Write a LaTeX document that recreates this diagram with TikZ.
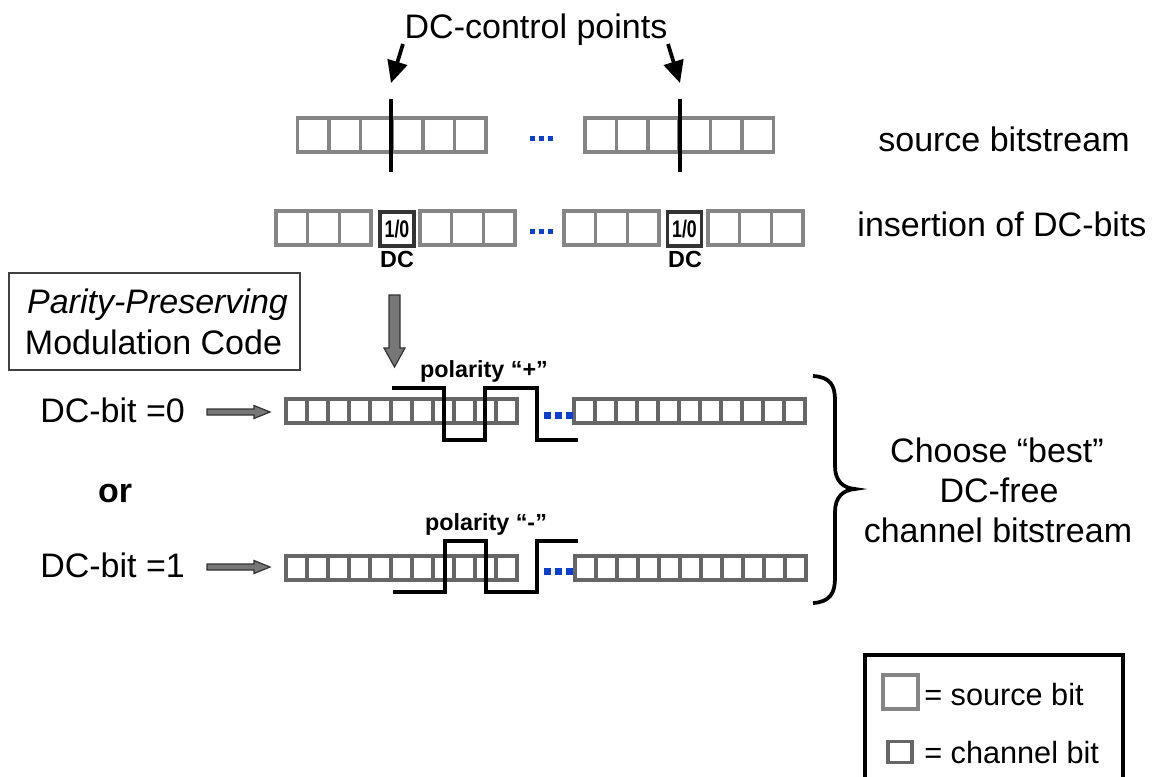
\documentclass[tikz,border=0pt]{standalone}
\usepackage{fontspec}
\setmainfont{Liberation Sans}
\usetikzlibrary{arrows.meta}
\definecolor{srcgray}{HTML}{858585}
\definecolor{chgray}{HTML}{666666}
\definecolor{dcgray}{HTML}{333333}
\definecolor{dotblue}{HTML}{0A3FD0}
\definecolor{arrgray}{HTML}{777777}
\begin{document}
\begin{tikzpicture}[x=0.75pt,y=-0.75pt,
  srcbit/.style={draw=srcgray,line width=2.7pt,fill=white,minimum width=23.55pt,minimum height=25.5pt,inner sep=0pt,outer sep=0pt},
  insbit/.style={srcbit,minimum width=23.8pt},
  dcbit/.style={draw=dcgray,line width=2.7pt,fill=white,minimum width=25.5pt,minimum height=25.5pt,inner sep=0pt,outer sep=0pt,font=\bfseries\fontsize{18}{18}\selectfont},
  chbit/.style={draw=chgray,line width=2.6pt,fill=white,minimum width=15.75pt,minimum height=18pt,inner sep=0pt,outer sep=0pt},
  main/.style={font=\fontsize{25.5}{30}\selectfont,inner sep=0pt},
  leg/.style={font=\fontsize{23}{27}\selectfont,inner sep=0pt},
  lbl/.style={font=\bfseries\fontsize{17.5}{20}\selectfont,inner sep=0pt},
  wave/.style={line width=2.8pt,line join=miter},
  blk/.style={line width=2.8pt},
  bluedot/.style={fill=dotblue},
  garrow/.style={fill=arrgray,draw=black!80,line width=0.9pt}
]
\useasboundingbox (0,0) rectangle (1152,776);

% title and DC-control arrows
\node[main,anchor=base] (title) at (536,38) {DC-control points};
\coordinate (ta) at (403,44);
\coordinate (tb) at (668,44);
\coordinate (h1) at (391,83);
\coordinate (h2) at (680,83);
\draw[blk,-{Triangle[length=16.5pt,width=15pt]}] (ta) -- (h1);
\draw[blk,-{Triangle[length=16.5pt,width=15pt]}] (tb) -- (h2);

% source bitstream row
\foreach \i in {0,...,5} {
  \node[srcbit] (sa\i) at ({313.2+31.4*\i},135) {};
  \node[srcbit] (sb\i) at ({600.7+31.4*\i},135) {};
}
\foreach \x in {532.5,541.5,550.5} \fill[bluedot] (\x-2.5,135.5) rectangle (\x+2.5,140.5);
\coordinate (v1t) at (391,99); \coordinate (v1b) at (391,172);
\coordinate (v2t) at (680,99); \coordinate (v2b) at (680,172);
\draw[blk] (v1t) -- (v1b);
\draw[blk] (v2t) -- (v2b);
\node[main,anchor=base] (srclbl) at (1004,151) {source bitstream};

% insertion row
\foreach \i in {0,...,2} {
  \node[insbit] (ia\i) at ({291.85+31.7*\i},228) {};
  \node[insbit] (ib\i) at ({435.85+31.7*\i},228) {};
  \node[insbit] (ic\i) at ({579.85+31.7*\i},228) {};
  \node[insbit] (id\i) at ({723.85+31.7*\i},228) {};
}
\node[dcbit] (dca) at (397,229) {\scalebox{0.74}[1]{1/0}};
\node[dcbit] (dcb) at (684.5,229) {\scalebox{0.74}[1]{1/0}};
\foreach \x in {532.5,541.5,550.5} \fill[bluedot] (\x-2.5,228.5) rectangle (\x+2.5,233.5);
\node[lbl,anchor=base] (dcla) at (397,267) {DC};
\node[lbl,anchor=base] (dclb) at (685,267) {DC};
\node[main,anchor=base] (inslbl) at (1002,236) {insertion of DC-bits};

% parity-preserving box
\node[draw=black!75,line width=1.5pt,minimum width=218.25pt,minimum height=72.75pt,inner sep=0pt] (pbox) at (154.5,321.5) {};
\node[main,anchor=base] (pp1) at (157.5,313) {\itshape Parity-Preserving};
\node[main,anchor=base] (pp2) at (153.5,354) {Modulation Code};

% big down arrow
\filldraw[garrow] (389,295) -- (400,295) -- (400,348) -- (405,348) -- (394.5,367) -- (384,348) -- (389,348) -- cycle;

% channel rows
\foreach \i in {0,...,10} {
  \node[chbit] (ra\i) at ({296.5+21*\i},411) {};
  \node[chbit] (rb\i) at ({584.5+21*\i},411) {};
  \node[chbit] (qa\i) at ({296.5+21*\i},568) {};
  \node[chbit] (qb\i) at ({585.5+21*\i},568) {};
}
\foreach \x in {547,558,569} {
  \fill[bluedot] (\x-3.5,411.5) rectangle (\x+3.5,418.5);
  \fill[bluedot] (\x-3.5,567.5) rectangle (\x+3.5,574.5);
}
\draw[wave] (392,388) -- (444,388) -- (444,440) -- (485,440) -- (485,388) -- (537,388) -- (537,440) -- (578,440);
\draw[wave] (393,592) -- (445,592) -- (445,541) -- (486,541) -- (486,592) -- (537,592) -- (537,541) -- (578,541);
\node[lbl,anchor=base] (pol1) at (484,377) {polarity “+”};
\node[lbl,anchor=base] (pol2) at (486,530) {polarity “-”};

% left labels and arrows
\node[main,anchor=base west] (b0) at (40,422) {DC-bit =0};
\node[main,anchor=base west] (b1) at (40,577) {DC-bit =1};
\node[main,font=\bfseries\fontsize{25.5}{30}\selectfont,anchor=base] (orl) at (115,502) {or};
\filldraw[garrow] (207,409) -- (254,409) -- (254,405.5) -- (270,412) -- (254,418.5) -- (254,415) -- (207,415) -- cycle;
\filldraw[garrow] (207,564) -- (254,564) -- (254,560.5) -- (270,567) -- (254,573.5) -- (254,570) -- (207,570) -- cycle;

% brace
\draw[blk] (813,376) .. controls (830,377) and (835,385) .. (835,400) -- (835,466)
  .. controls (835,481) and (843,488) .. (855,489)
  .. controls (843,490) and (835,497) .. (835,512) -- (835,578)
  .. controls (835,593) and (830,602) .. (813,603);
\node[main,anchor=base] (c1) at (997,462) {Choose “best”};
\node[main,anchor=base] (c2) at (999,502) {DC-free};
\node[main,anchor=base] (c3) at (998,542) {channel bitstream};

% legend
\draw[blk] (865,790) -- (865,655) -- (1123,655) -- (1123,790);
\node[srcbit,minimum width=26.25pt,minimum height=25.5pt] (legs) at (900.5,692) {};
\node[chbit,minimum width=18pt,minimum height=15.75pt] (legc) at (900,752) {};
\node[leg,anchor=base west] (l1) at (924,705) {= source bit};
\node[leg,anchor=base west] (l2) at (924,763) {= channel bit};
\end{tikzpicture}
\end{document}
